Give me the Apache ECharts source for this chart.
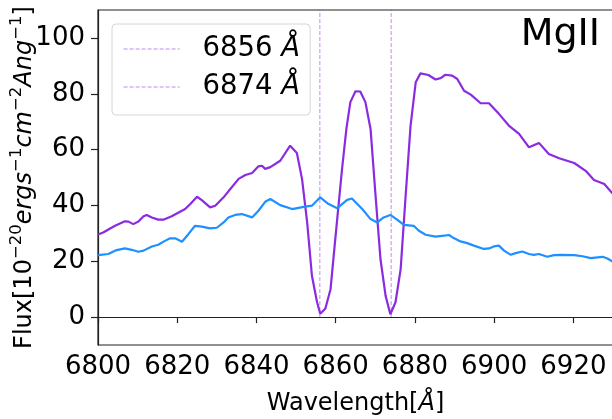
<!DOCTYPE html>
<html>
<head>
<meta charset="utf-8">
<script src="https://cdn.jsdelivr.net/npm/echarts@6/dist/echarts.min.js"></script>
<style>
html,body{margin:0;padding:0;background:#fff;}
#c{width:612px;height:419px;}
</style>
</head>
<body>
<div id="c"></div>
<script>
// ---- data ----
const purpleWave = [6800.0,6801.3,6804.3,6806.8,6807.7,6808.9,6810.2,6811.5,6812.3,6813.6,6815.2,6816.5,6818.6,6822.0,6823.3,6825.0,6826.2,6828.3,6829.6,6831.7,6833.4,6835.5,6837.2,6838.9,6840.5,6841.4,6842.2,6843.5,6846.0,6848.5,6850.2,6851.5,6852.8,6854.0,6855.3,6856.1,6857.4,6858.7,6859.9,6861.6,6862.7,6863.7,6865.0,6866.2,6867.5,6868.8,6870.0,6871.3,6872.6,6873.8,6875.1,6876.4,6877.6,6878.9,6880.2,6881.4,6883.4,6885.2,6886.5,6887.7,6889.4,6890.7,6892.4,6894.1,6896.6,6898.7,6901.2,6903.7,6906.3,6908.8,6911.3,6913.8,6916.4,6920.2,6923.1,6925.2,6927.8,6930.0];
const purpleFlux = [29.6,30.3,32.7,34.3,34.2,33.3,34.2,36.1,36.6,35.7,34.9,34.9,36.1,38.7,40.5,43.1,41.9,39.3,39.9,42.9,45.9,49.5,50.9,51.6,54.0,54.2,53.1,53.7,56.0,61.4,58.8,49.5,33.9,14.8,5.3,1.2,3.1,10.0,28.0,53.0,67.4,77.0,80.9,80.8,77.0,67.4,44.7,20.8,7.6,1.0,5.3,17.2,42.3,68.6,84.1,87.3,86.7,85.1,85.6,86.8,86.5,85.3,81.1,79.7,76.6,76.6,72.8,68.6,65.6,60.8,62.4,58.4,56.9,55.2,52.4,49.1,47.7,44.1];

const blueWave = [6800.0,6802.6,6804.7,6806.8,6808.5,6810.2,6811.5,6813.6,6815.2,6816.9,6818.2,6819.5,6821.2,6822.8,6824.5,6826.2,6828.3,6830.0,6831.7,6832.9,6834.6,6836.3,6838.9,6840.5,6842.2,6843.5,6846.0,6849.0,6851.9,6854.0,6856.1,6858.2,6860.4,6862.9,6864.1,6866.7,6868.8,6870.5,6872.1,6873.8,6875.5,6877.2,6879.7,6881.0,6882.7,6885.2,6886.9,6888.6,6889.8,6891.5,6893.2,6894.9,6897.4,6898.7,6899.9,6901.2,6902.5,6904.2,6905.4,6907.1,6908.8,6910.0,6911.3,6913.4,6915.1,6916.8,6920.2,6922.3,6924.4,6926.1,6927.4,6928.6,6930.0];
const blueFlux = [22.2,22.6,24.0,24.6,24.1,23.4,23.8,25.3,25.9,27.3,28.2,28.2,27.0,29.7,32.7,32.4,31.8,32.0,33.9,35.7,36.6,36.9,35.7,38.1,41.3,42.3,40.1,38.7,39.5,39.9,42.9,40.5,39.0,42.0,42.5,38.7,35.1,33.9,35.7,36.6,34.9,33.0,32.7,30.9,29.5,28.8,29.1,29.4,28.3,27.1,26.5,25.6,24.4,24.6,25.3,25.6,23.8,22.3,22.9,23.5,22.6,22.3,22.6,21.6,22.2,22.3,22.2,21.8,21.1,21.4,21.6,21.0,19.8];

const lineWaves = [6856, 6874];      // vertical dashed reference lines
const lineSpan = [0, 110];           // flux range covered by the reference lines
const xTicks = [6800, 6820, 6840, 6860, 6880, 6900, 6920];
const yTicks = [0, 20, 40, 60, 80, 100];
const panelTitle = 'MgII';

// ---- build chart ----
const zip = (xs, ys) => xs.map((x, i) => [x, ys[i]]);
const FONT = 'DejaVu Sans';
const refColor = 'rgba(138,43,226,0.55)';

const refSeries = lineWaves.map(w => ({
  name: w + ' Å',
  type: 'line',
  data: lineSpan.map(v => [w, v]),
  symbol: 'none',
  silent: true,
  z: 1,
  lineStyle: { color: refColor, width: 1, type: [4, 2] },
  itemStyle: { color: 'rgba(0,0,0,0)', opacity: 0 }
}));

const option = {
  animation: false,
  backgroundColor: '#fff',
  title: {
    text: panelTitle,
    right: 12, top: 16, padding: 0,
    textStyle: { fontFamily: FONT, fontSize: 38, fontWeight: 'normal', color: '#000' }
  },
  grid: {
    left: 98, top: 10, right: -1, bottom: 74,
    containLabel: false, outerBoundsMode: 'none',
    show: true, borderColor: '#222', borderWidth: 1.2, backgroundColor: 'transparent'
  },
  legend: {
    data: refSeries.map(s => s.name),
    orient: 'vertical',
    left: 112, top: 24,
    padding: [11, 10, 14, 11],
    itemWidth: 56, itemHeight: 14, itemGap: 10,
    backgroundColor: 'rgba(255,255,255,0.85)',
    borderColor: '#d6d6d6', borderWidth: 1, borderRadius: 4,
    lineStyle: { width: 1.2 },
    itemStyle: { opacity: 0 },
    formatter: name => {
      const num = name.split(' ')[0];
      return '{n|' + num + ' }{a|Å}';
    },
    textStyle: {
      fontFamily: FONT, fontSize: 27.5, color: '#000',
      rich: {
        n: { fontFamily: FONT, fontSize: 27.5, color: '#000', padding: [0, 0, 0, 18], lineHeight: 32 },
        a: { fontFamily: FONT, fontSize: 27.5, color: '#000', fontStyle: 'italic', lineHeight: 32 }
      }
    }
  },
  xAxis: {
    type: 'value',
    min: 6800, max: 6930, interval: 20,
    name: '{t|Wavelength[}{a|Å}{t|]}',
    nameLocation: 'middle', nameGap: 47,
    nameTextStyle: {
      fontFamily: FONT, fontSize: 24, color: '#000',
      rich: {
        t: { fontFamily: FONT, fontSize: 24, color: '#000' },
        a: { fontFamily: FONT, fontSize: 24, color: '#000', fontStyle: 'italic' }
      }
    },
    axisLine: { show: true, lineStyle: { color: '#222', width: 1.2 } },
    axisTick: { show: true, length: 6, lineStyle: { color: '#222', width: 1.2 } },
    axisLabel: {
      margin: 9, fontFamily: FONT, fontSize: 26, color: '#000',
      formatter: v => xTicks.includes(v) ? String(v) : ''
    },
    splitLine: { show: false }
  },
  yAxis: {
    type: 'value',
    min: -10, max: 110,
    name: '{t|Flux[10}{s|−20}{i|ergs}{s|−1}{i|cm}{s|−2}{i|Ang}{s|−1}{t|]}',
    nameLocation: 'middle', nameRotate: 90, nameGap: 61,
    nameMoveOverlap: false,
    nameTextStyle: {
      fontFamily: FONT, fontSize: 24, color: '#000',
      rich: {
        t: { fontFamily: FONT, fontSize: 24, color: '#000', lineHeight: 29, verticalAlign: 'bottom' },
        i: { fontFamily: FONT, fontSize: 24, color: '#000', fontStyle: 'italic', lineHeight: 29, verticalAlign: 'bottom' },
        s: { fontFamily: FONT, fontSize: 16.5, color: '#000', lineHeight: 19, verticalAlign: 'top' }
      }
    },
    axisLine: { show: true, lineStyle: { color: '#222', width: 1.2 } },
    axisTick: { show: true, length: 7, customValues: yTicks, lineStyle: { color: '#222', width: 1.2 } },
    axisLabel: { margin: 13, fontFamily: FONT, fontSize: 26, color: '#000', customValues: yTicks },
    splitLine: { show: false }
  },
  series: [
    {
      name: 'purple', type: 'line', data: zip(purpleWave, purpleFlux),
      symbol: 'none', z: 3, clip: true,
      lineStyle: { color: '#8A2BE2', width: 2.2 }
    },
    {
      name: 'blue', type: 'line', data: zip(blueWave, blueFlux),
      symbol: 'none', z: 4, clip: true,
      lineStyle: { color: '#1E90FF', width: 2.2 }
    },
    ...refSeries
  ]
};

const chart = echarts.init(document.getElementById('c'), null, { renderer: 'canvas' });
chart.setOption(option);
</script>
</body>
</html>
